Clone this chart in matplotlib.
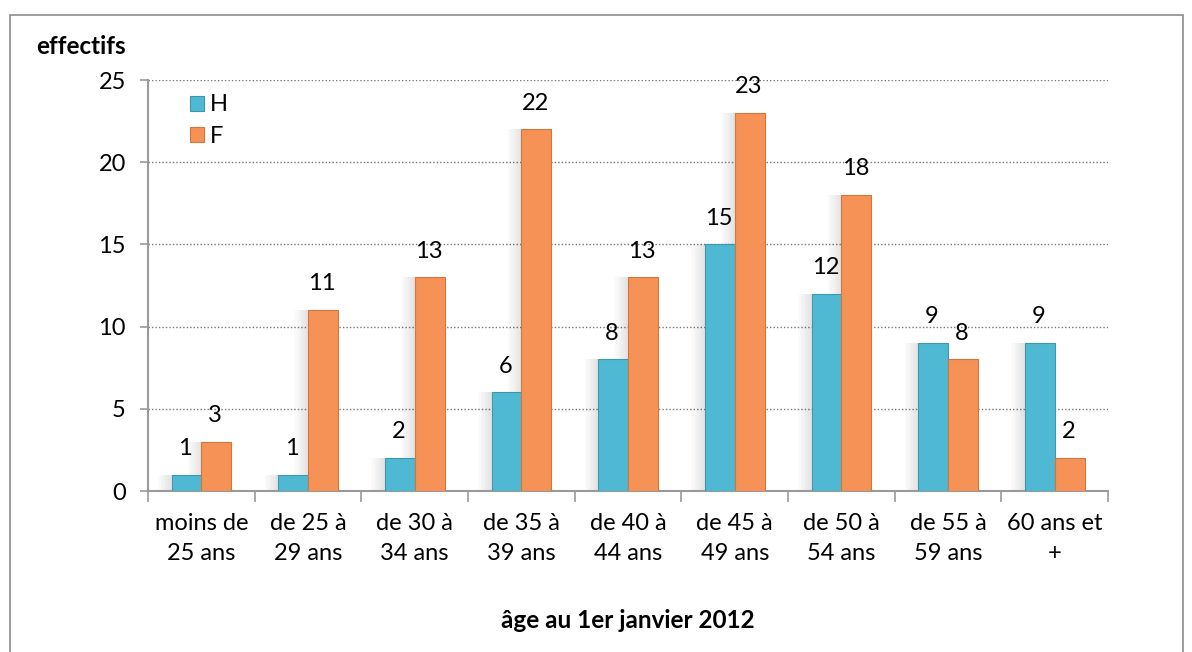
import matplotlib.pyplot as plt
import matplotlib.patches as mpatches
import numpy as np

plt.rcParams['font.family'] = ['Lato', 'DejaVu Sans']

categories = ["moins de\n25 ans", "de 25 à\n29 ans", "de 30 à\n34 ans", "de 35 à\n39 ans",
              "de 40 à\n44 ans", "de 45 à\n49 ans", "de 50 à\n54 ans", "de 55 à\n59 ans",
              "60 ans et\n+"]
h_values = [1, 1, 2, 6, 8, 15, 12, 9, 9]
f_values = [3, 11, 13, 22, 13, 23, 18, 8, 2]
series_names = ["H", "F"]
y_ticks = [0, 5, 10, 15, 20, 25]

col_h = "#4fb9d3"
col_f = "#f79256"
edge_h = "#3e97ad"
edge_f = "#d0773f"
fs = 17

fig = plt.figure(figsize=(11.92, 6.52), dpi=100)
ax = fig.add_axes([0.1242, 0.2469, 0.8054, 0.6304])

x = np.arange(len(categories))
w = 0.28

# soft shadow on the left side of each bar
for xs, vals in ((x - w / 2, h_values), (x + w / 2, f_values)):
    for xi, v in zip(xs, vals):
        for i in range(8):
            step = 0.016
            ax.add_patch(mpatches.Rectangle((xi - w / 2 - (i + 1) * step, 0), step, v,
                                            facecolor="black", alpha=0.11 * (1 - i / 8),
                                            lw=0, zorder=2))

ax.bar(x - w / 2, h_values, w, color=col_h, edgecolor=edge_h, linewidth=0.8,
       label=series_names[0], zorder=3)
ax.bar(x + w / 2, f_values, w, color=col_f, edgecolor=edge_f, linewidth=0.8,
       label=series_names[1], zorder=3)

for xs, vals in ((x - w / 2, h_values), (x + w / 2, f_values)):
    for xi, v in zip(xs, vals):
        ax.text(xi - 0.01, v + 1.2, str(v), ha="center", va="baseline", fontsize=fs, zorder=4)

ax.set_xlim(-0.5, len(categories) - 0.5)
ax.set_ylim(0, 25)
ax.set_yticks(y_ticks)
ax.set_yticklabels([str(t) for t in y_ticks], fontsize=fs)
ax.set_xticks(x)
ax.set_xticklabels(categories, fontsize=fs, linespacing=1.5)
ax.set_xticks(np.arange(-0.5, len(categories)), minor=True)
ax.tick_params(axis="x", which="major", length=0, pad=16)
ax.tick_params(axis="x", which="minor", length=8, color="#999999", width=1.2)
ax.tick_params(axis="y", length=6, color="#999999", width=1.2, pad=10)

ax.grid(axis="y", linestyle=(0, (1, 1.5)), color="#777777", linewidth=1.0, zorder=0)
ax.set_axisbelow(True)
for s in ("top", "right"):
    ax.spines[s].set_visible(False)
for s in ("left", "bottom"):
    ax.spines[s].set_color("#999999")
    ax.spines[s].set_linewidth(1.5)

ax.legend(loc="upper left", bbox_to_anchor=(0.026, 1.005), frameon=False, fontsize=fs,
          handlelength=0.6, handleheight=0.6, handletextpad=0.25, labelspacing=0.45,
          borderpad=0.2)

fig.text(0.5 * (148 + 1108) / 1192, 1 - 620 / 652, "âge au 1er janvier 2012", fontsize=17.5,
         fontweight="bold", ha="center", va="center")
fig.text(36 / 1192, 1 - 46 / 652, "effectifs", fontsize=17.5, fontweight="bold",
         ha="left", va="center")

fig.patches.append(mpatches.Rectangle((10 / 1192, -0.01), 1173 / 1192, 1 - 15 / 652 + 0.01,
                                      transform=fig.transFigure, fill=False,
                                      edgecolor="#8c8c8c", linewidth=1.2))

fig.savefig("out.png", dpi=100)
